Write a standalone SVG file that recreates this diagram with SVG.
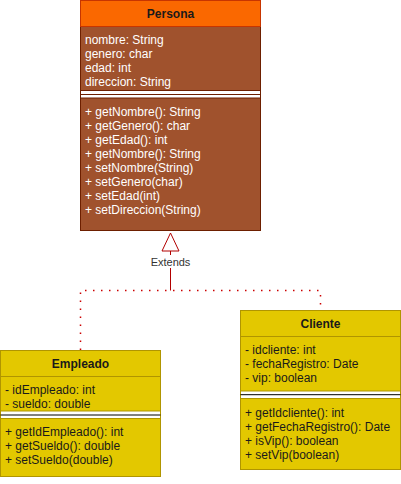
<svg xmlns="http://www.w3.org/2000/svg" width="401" height="484" viewBox="0 0 401 484">
<style>
text{font-family:"Liberation Sans",Arial,sans-serif;font-size:12px}
.hd{font-weight:bold;text-anchor:middle;fill:#1a1a1a}
.pw{fill:#ffffff}
.yk{fill:#1a1a1a}
.ph{fill:#fa6800;stroke:#c73500;stroke-width:1}
.pb{fill:#a0522d;stroke:#6d1f00;stroke-width:1}
.yb{fill:#e3c800;stroke:#b09500;stroke-width:1}
.sepP{fill:#ffffff;stroke:#6d1f00;stroke-width:1}
.sepY{fill:#ffffff;stroke:#b09500;stroke-width:1}
.dot{fill:none;stroke:#cc0000;stroke-width:1.5;stroke-dasharray:1.5 6.5}
</style>
<g id="connectors">
<path class="dot" d="M80.5,350 L80.5,290.5 L320.5,290.5 L320.5,310"/>
<path d="M170.5,251 L170.5,290.5" fill="none" stroke="#b20000" stroke-width="1"/>
<rect x="148" y="255" width="45" height="13" fill="#ffffff"/>
<text x="170.5" y="266" text-anchor="middle" style="font-size:11px" fill="#333333">Extends</text>
<path d="M170.5,233 L179,251 L162,251 Z" fill="#ffffff" stroke="#b20000" stroke-width="1"/>
</g>
<g id="persona">
<rect class="pb" x="80.5" y="0.5" width="180" height="230"/>
<rect class="ph" x="80.5" y="0.5" width="180" height="26"/>
<text class="hd" x="170.5" y="18">Persona</text>
<rect class="sepP" x="80.5" y="90.5" width="180" height="7.5"/>
<line x1="80.5" y1="94.5" x2="260.5" y2="94.5" stroke="#6d1f00"/>
<text class="pw" x="85" y="44">nombre: String</text>
<text class="pw" x="85" y="58">genero: char</text>
<text class="pw" x="85" y="72">edad: int</text>
<text class="pw" x="85" y="86">direccion: String</text>
<text class="pw" x="85" y="116">+ getNombre(): String</text>
<text class="pw" x="85" y="130">+ getGenero(): char</text>
<text class="pw" x="85" y="144">+ getEdad(): int</text>
<text class="pw" x="85" y="158">+ getNombre(): String</text>
<text class="pw" x="85" y="172">+ setNombre(String)</text>
<text class="pw" x="85" y="186">+ setGenero(char)</text>
<text class="pw" x="85" y="200">+ setEdad(int)</text>
<text class="pw" x="85" y="214">+ setDireccion(String)</text>
</g>
<g id="empleado">
<rect class="yb" x="0.5" y="350.5" width="160" height="126"/>
<line x1="0.5" y1="376.5" x2="160.5" y2="376.5" stroke="#b09500"/>
<text class="hd" x="80.5" y="367.5">Empleado</text>
<rect class="sepY" x="0.5" y="411" width="160" height="7.5"/>
<line x1="0.5" y1="415" x2="160.5" y2="415" stroke="#000000"/>
<text class="yk" x="5" y="393.5">- idEmpleado: int</text>
<text class="yk" x="5" y="407.5">- sueldo: double</text>
<text class="yk" x="5" y="436.3">+ getIdEmpleado(): int</text>
<text class="yk" x="5" y="450.3">+ getSueldo(): double</text>
<text class="yk" x="5" y="464.3">+ setSueldo(double)</text>
</g>
<g id="cliente">
<rect class="yb" x="240.5" y="310.5" width="160" height="159"/>
<line x1="240.5" y1="336.5" x2="400.5" y2="336.5" stroke="#b09500"/>
<text class="hd" x="320.5" y="327.5">Cliente</text>
<rect class="sepY" x="240.5" y="391" width="160" height="7.5"/>
<line x1="240.5" y1="394.7" x2="400.5" y2="394.7" stroke="#000000"/>
<text class="yk" x="245" y="353.6">- idcliente: int</text>
<text class="yk" x="245" y="367.6">- fechaRegistro: Date</text>
<text class="yk" x="245" y="381.6">- vip: boolean</text>
<text class="yk" x="245" y="416.6">+ getIdcliente(): int</text>
<text class="yk" x="245" y="430.6">+ getFechaRegistro(): Date</text>
<text class="yk" x="245" y="444.6">+ isVip(): boolean</text>
<text class="yk" x="245" y="458.6">+ setVip(boolean)</text>
</g>
</svg>
